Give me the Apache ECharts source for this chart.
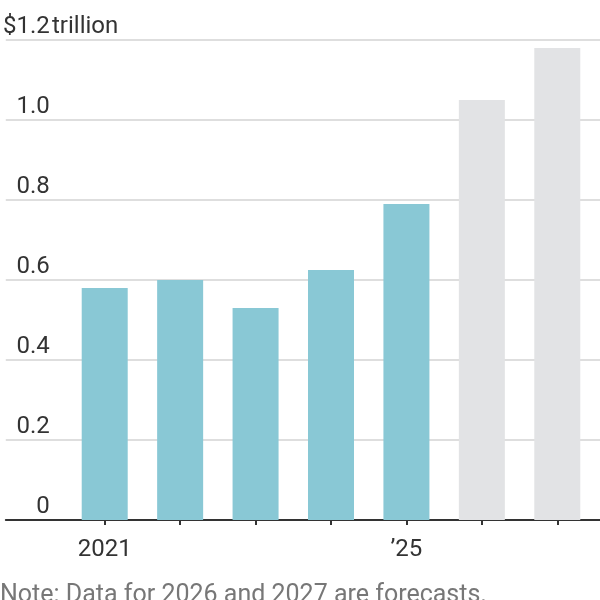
<!DOCTYPE html>
<html>
<head>
<meta charset="utf-8">
<script src="https://cdn.jsdelivr.net/npm/echarts@6/dist/echarts.min.js"></script>
<style>
  html, body { margin: 0; padding: 0; background: #fff; }
  #chart { width: 600px; height: 600px; }
</style>
</head>
<body>
<div id="chart"></div>
<script>
// 데이터
const years = ['2021', '2022', '2023', '2024', '2025', '2026', '2027'];
const values = [0.58, 0.60, 0.53, 0.625, 0.79, 1.05, 1.18];
const forecast = [false, false, false, false, false, true, true];
const xLabels = ['2021', '', '', '', '\u201925', '', ''];
const yTicks = [0, 0.2, 0.4, 0.6, 0.8, 1.0, 1.2];

const FONT = 'Roboto';
const FS = 24;
const TOP = 40;
const BOTTOM = 80;

let myChart = echarts.init(document.getElementById('chart'));

let option = {
  animation: false,
  grid: [
    // 전체 폭 그리드 (눈금선, 축선)
    { left: 0, right: 0, top: TOP, bottom: BOTTOM },
    // 막대 그리드
    { left: 67, right: 5, top: TOP, bottom: BOTTOM },
  ],
  xAxis: [
    {
      gridIndex: 0,
      type: 'value',
      min: 0,
      max: 1,
      axisLabel: { show: false },
      axisTick: { show: false },
      splitLine: { show: false },
      axisLine: { show: true, onZero: false, lineStyle: { color: '#333', width: 2 } },
    },
    {
      gridIndex: 1,
      type: 'category',
      data: years,
      axisLine: { show: false },
      axisTick: { show: true, alignWithLabel: true, length: 5, lineStyle: { color: '#333', width: 2 } },
      axisLabel: {
        interval: 0,
        margin: 18,
        fontFamily: FONT,
        fontSize: FS,
        color: '#333',
        formatter: (v, i) => xLabels[i],
      },
    },
  ],
  yAxis: [
    {
      gridIndex: 0,
      type: 'value',
      min: 0,
      max: yTicks[yTicks.length - 1],
      interval: 0.2,
      axisLine: { show: false },
      axisTick: { show: false },
      axisLabel: {
        inside: true,
        margin: 44,
        align: 'right',
        verticalAlign: 'bottom',
        padding: [0, 0, 1, 0],
        fontFamily: FONT,
        fontSize: FS,
        color: '#333',
        formatter: (v) => {
          if (v === 0) return '0';
          let s = v.toFixed(1);
          return v >= 1.19 ? '$' + s : s;
        },
      },
      splitLine: { lineStyle: { color: '#dedede', width: 2 } },
    },
    {
      gridIndex: 1,
      type: 'value',
      min: 0,
      max: yTicks[yTicks.length - 1],
      show: false,
    },
  ],
  series: [
    {
      type: 'bar',
      xAxisIndex: 1,
      yAxisIndex: 1,
      barWidth: 46,
      data: values.map((v, i) => ({
        value: v,
        itemStyle: { color: forecast[i] ? '#e2e3e5' : '#89c8d5' },
      })),
    },
  ],
  graphic: [
    {
      // 단위 표시
      type: 'text',
      left: 52,
      top: TOP - 1 - FS,
      style: { text: 'trillion', fontFamily: FONT, fontSize: FS, fill: '#333' },
    },
    {
      type: 'text',
      left: 0,
      top: 583,
      style: {
        text: 'Note: Data for 2026 and 2027 are forecasts.',
        fontFamily: FONT,
        fontSize: 25,
        fill: '#777',
      },
    },
  ],
};

myChart.setOption(option);
</script>
</body>
</html>
